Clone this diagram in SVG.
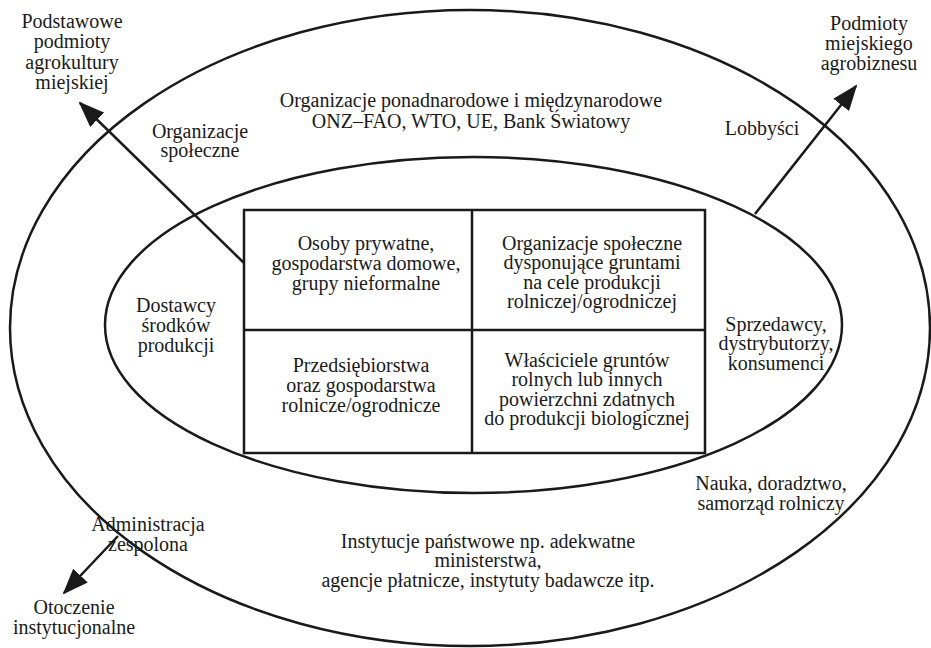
<svg xmlns="http://www.w3.org/2000/svg" width="931" height="648" viewBox="0 0 931 648">
<style>
text{font-family:"Liberation Serif","Times New Roman",serif;font-size:20px;fill:#1a1a1a;text-anchor:middle}
.ln{fill:none;stroke:#1a1a1a;stroke-width:2.5}
</style>
<defs>
<marker id="ah" viewBox="0 0 26 20" refX="24" refY="10" markerWidth="26" markerHeight="20" markerUnits="userSpaceOnUse" orient="auto">
<path d="M0,0 L26,10 L0,20 z" fill="#1a1a1a"/>
</marker>
</defs>
<rect width="931" height="648" fill="#fff"/>
<g id="outer-ellipse"><ellipse class="ln" cx="470" cy="328" rx="460" ry="318"/></g>
<g id="inner-ellipse"><ellipse class="ln" cx="473.5" cy="325" rx="368.5" ry="168"/></g>
<g id="connectors">
<line class="ln" x1="244" y1="263" x2="80" y2="103" marker-end="url(#ah)"/>
<line class="ln" x1="755" y1="214" x2="856" y2="86" marker-end="url(#ah)"/>
<line class="ln" x1="118" y1="536" x2="64" y2="593" marker-end="url(#ah)"/>
</g>
<g id="box">
<rect class="ln" x="244" y="210" width="461" height="243" fill="#fff"/>
<line class="ln" x1="472" y1="210" x2="472" y2="453"/>
<line class="ln" x1="244" y1="330" x2="705" y2="330"/>
</g>
<g id="cell-tl"><text x="366" y="250">Osoby prywatne,</text><text x="366" y="270">gospodarstwa domowe,</text><text x="366" y="290">grupy nieformalne</text></g>
<g id="cell-tr"><text x="592" y="250">Organizacje społeczne</text><text x="592" y="269">dysponujące gruntami</text><text x="592" y="289">na cele produkcji</text><text x="592" y="308">rolniczej/ogrodniczej</text></g>
<g id="cell-bl"><text x="361" y="372">Przedsiębiorstwa</text><text x="361" y="392">oraz gospodarstwa</text><text x="361" y="412">rolnicze/ogrodnicze</text></g>
<g id="cell-br"><text x="587" y="367">Właściciele gruntów</text><text x="587" y="386">rolnych lub innych</text><text x="587" y="406">powierzchni zdatnych</text><text x="587" y="425">do produkcji biologicznej</text></g>
<g id="podstawowe"><text x="72" y="28">Podstawowe</text><text x="72" y="48">podmioty</text><text x="72" y="69">agrokultury</text><text x="72" y="89">miejskiej</text></g>
<g id="podmioty"><text x="869" y="30">Podmioty</text><text x="869" y="50">miejskiego</text><text x="869" y="70">agrobiznesu</text></g>
<g id="organizacje-ponad"><text x="471" y="107">Organizacje ponadnarodowe i międzynarodowe</text><text x="471" y="128">ONZ–FAO, WTO, UE, Bank Światowy</text></g>
<g id="organizacje-spol"><text x="200" y="138">Organizacje</text><text x="200" y="157">społeczne</text></g>
<g id="lobbysci"><text x="762" y="135">Lobbyści</text></g>
<g id="dostawcy"><text x="176" y="312">Dostawcy</text><text x="176" y="332">środków</text><text x="176" y="352">produkcji</text></g>
<g id="sprzedawcy"><text x="776" y="331">Sprzedawcy,</text><text x="776" y="350">dystrybutorzy,</text><text x="776" y="370">konsumenci</text></g>
<g id="administracja"><text x="148" y="531">Administracja</text><text x="148" y="551">zespolona</text></g>
<g id="nauka"><text x="771" y="490">Nauka, doradztwo,</text><text x="771" y="510">samorząd rolniczy</text></g>
<g id="instytucje"><text x="488" y="548">Instytucje państwowe np. adekwatne</text><text x="488" y="567">ministerstwa,</text><text x="488" y="587">agencje płatnicze, instytuty badawcze itp.</text></g>
<g id="otoczenie"><text x="74" y="614">Otoczenie</text><text x="74" y="634">instytucjonalne</text></g>
</svg>
